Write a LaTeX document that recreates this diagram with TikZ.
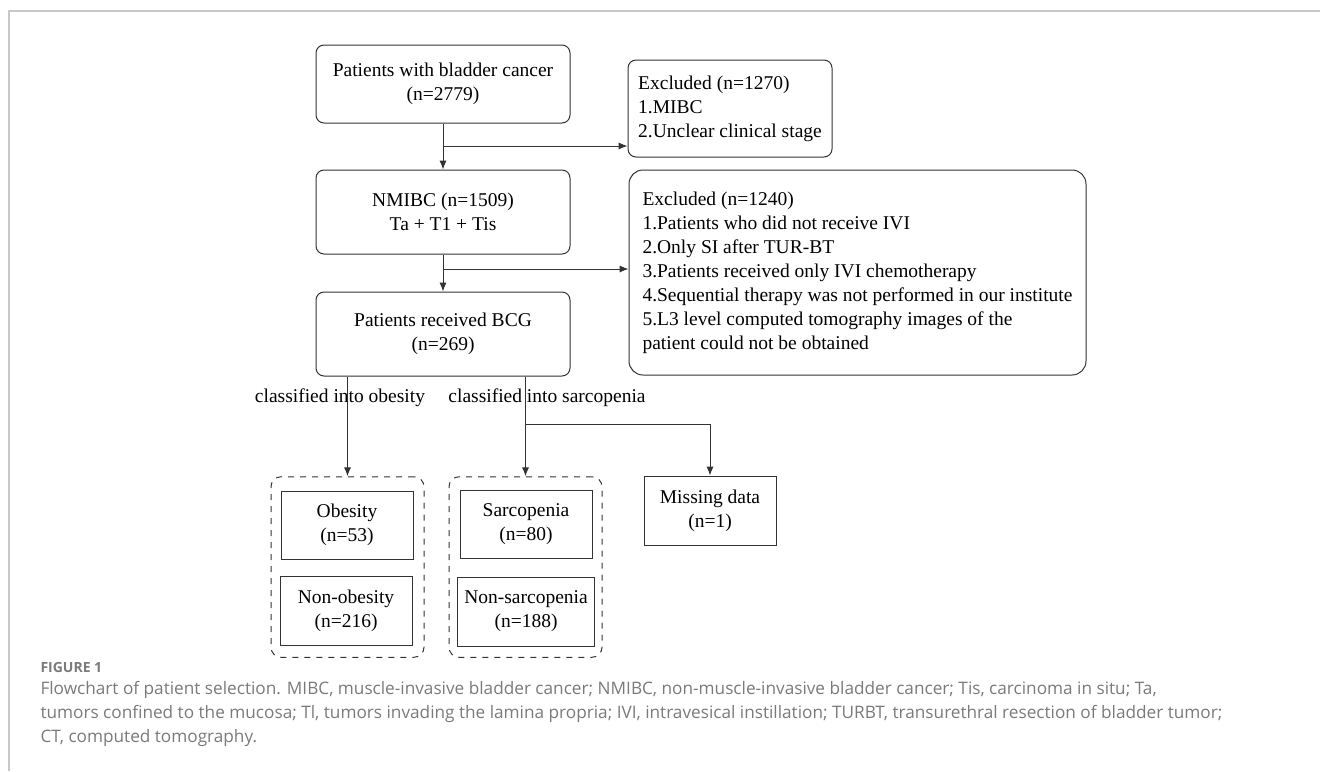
\documentclass[tikz,border=0pt]{standalone}
\usepackage{fontspec}
\setmainfont{Liberation Serif}
\newfontfamily\capfont{Open Sans}
\usepackage{tikz}
\usetikzlibrary{arrows.meta, positioning, calc}
\definecolor{framegray}{HTML}{C8C8C8}
\definecolor{capgray}{HTML}{7A7A7A}
\definecolor{linegray}{HTML}{333333}

\begin{document}
\begin{tikzpicture}[x=0.5pt, y=-0.5pt, >={Latex[length=4.5pt,width=3.6pt]},
    font=\fontsize{9.75}{12}\selectfont, line width=0.5pt, draw=linegray,
    mainbox/.style={draw, rounded corners=4pt, minimum width=127pt, minimum height=42pt, align=center},
    exbox/.style={draw, rounded corners=4pt, align=left},
    grp/.style={draw, dashed, rounded corners=5pt, minimum width=76.5pt, minimum height=90.25pt},
    subbox/.style={draw, minimum width=66pt, minimum height=34pt, align=center},
    lbl/.style={inner sep=0pt},
    captitle/.style={anchor=west, inner sep=0pt, text=capgray, font=\capfont\bfseries\fontsize{7}{8}\selectfont},
    capline/.style={anchor=west, inner sep=0pt, text=capgray, font=\capfont\fontsize{8.6}{10}\selectfont}
]
    \useasboundingbox (0,0) rectangle (1320,771);
    \draw[framegray, line width=0.75pt] (1320,11) -- (9,11) -- (9,771);

    \node[mainbox, minimum height=39pt] (pbc) at (443,84) {Patients with bladder cancer\\(n=2779)};
    \node[mainbox] (nmibc) at (443,212) {NMIBC (n=1509)\\Ta + T1 + Tis};
    \node[mainbox] (bcg) at (443,334) {Patients received BCG\\(n=269)};
    \node[exbox, minimum width=102pt, minimum height=48.5pt] (ex1) at (730,108.5)
        {Excluded (n=1270)\\1.MIBC\\2.Unclear clinical stage};
    \node[exbox, rounded corners=7pt, minimum width=228.5pt, minimum height=102.5pt] (ex2) at (857.5,272.5)
        {Excluded (n=1240)\\1.Patients who did not receive IVI\\2.Only SI after TUR-BT\\3.Patients received only IVI chemotherapy\\4.Sequential therapy was not performed in our institute\\5.L3 level computed tomography images of the\\patient could not be obtained};

    \coordinate (j1) at (443,146);
    \coordinate (j2) at (443,269);
    \draw[->] (pbc) -- (nmibc);
    \draw[->] (nmibc) -- (bcg);
    \draw[->] (j1) -- (j1 -| ex1.west);
    \draw[->] (j2) -- (j2 -| ex2.west);

    \node[grp] (obgrp) at (347.5,567) {};
    \node[grp] (sargrp) at (525.5,567) {};
    \node[subbox] (obes) at (347,525) {Obesity\\(n=53)};
    \node[subbox, minimum height=34.5pt] (nobes) at (346,611) {Non-obesity\\(n=216)};
    \node[subbox] (sarc) at (526,524.5) {Sarcopenia\\(n=80)};
    \node[subbox, minimum height=34.5pt] (nsarc) at (526,611.5) {Non-sarcopenia\\(n=188)};
    \node[subbox, minimum height=34.5pt] (miss) at (710,510.5) {Missing data\\(n=1)};

    \draw[->] (bcg.south -| obgrp.north) -- (obgrp.north);
    \draw[->] (bcg.south -| sargrp.north) -- (sargrp.north);
    \coordinate (j3) at (525.5,424);
    \draw[->] (j3) -| (miss.north);
    \node[lbl] (lobes) at (340,397.5) {classified into obesity};
    \node[lbl] (lsarc) at (547,397.5) {classified into sarcopenia};

    \node[captitle] (fig) at (40,667) {FIGURE 1};
    \node[capline] (cap1) at (40,690) {Flowchart of patient selection. MIBC, muscle-invasive bladder cancer; NMIBC, non-muscle-invasive bladder cancer; Tis, carcinoma in situ; Ta,};
    \node[capline] (cap2) at (40,714) {tumors confined to the mucosa; Tl, tumors invading the lamina propria; IVI, intravesical instillation; TURBT, transurethral resection of bladder tumor;};
    \node[capline] (cap3) at (40,738) {CT, computed tomography.};
\end{tikzpicture}
\end{document}
